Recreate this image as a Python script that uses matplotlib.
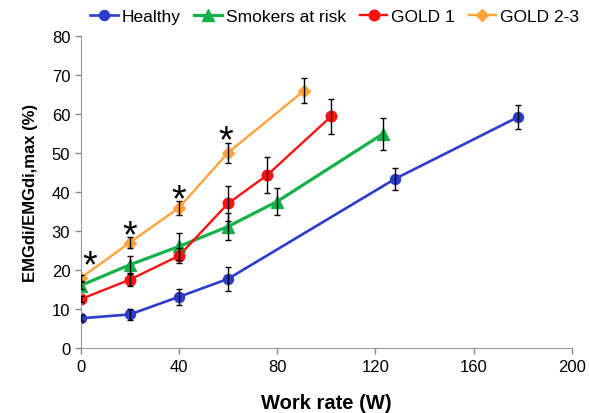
import matplotlib
matplotlib.use("Agg")
import matplotlib.pyplot as plt

plt.rcParams["font.family"] = ["Liberation Sans", "DejaVu Sans"]

# work rate (W) and EMGdi/EMGdi,max (%) per group, with SD
healthy_x = [0, 20, 40, 60, 128, 178]
healthy_y = [7.7, 8.7, 13.2, 17.8, 43.4, 59.2]
healthy_err = [0.8, 1.5, 2.1, 3.0, 2.9, 3.0]

smokers_x = [0, 20, 40, 60, 80, 123]
smokers_y = [16.1, 21.4, 26.1, 31.2, 37.6, 54.9]
smokers_err = [0.8, 2.3, 3.4, 3.4, 3.5, 4.1]

gold1_x = [0, 20, 40, 60, 76, 102]
gold1_y = [12.6, 17.6, 23.7, 37.1, 44.4, 59.4]
gold1_err = [0.8, 1.7, 1.9, 4.5, 4.6, 4.4]

gold23_x = [0, 20, 40, 60, 91]
gold23_y = [18.0, 27.1, 36.0, 50.1, 66.0]
gold23_err = [0.8, 1.4, 1.8, 2.6, 3.2]

# significance marks
star_x = [3.5, 20, 40, 59]
star_y = [21.0, 28.8, 38.0, 53.0]

fig = plt.figure(figsize=(5.89, 4.14), dpi=100)
ax = fig.add_axes([0.137, 0.156, 0.834, 0.755])

series = [
    (healthy_x, healthy_y, healthy_err, "#2B3CC8", "o", 7.2, 1.9, "Healthy"),
    (smokers_x, smokers_y, smokers_err, "#17B14A", "^", 8.0, 2.3, "Smokers at risk"),
    (gold1_x, gold1_y, gold1_err, "#FF1010", "o", 7.6, 1.7, "GOLD 1"),
    (gold23_x, gold23_y, gold23_err, "#FFA33A", "D", 5.8, 1.7, "GOLD 2-3"),
]

handles = []
for x, y, err, col, mk, ms, lw, name in series:
    ax.errorbar(x, y, yerr=err, fmt="none", ecolor="black", elinewidth=1.0,
                capsize=2.5, capthick=1.0, zorder=3)
    h, = ax.plot(x, y, color=col, marker=mk, markersize=ms, linewidth=lw,
                 label=name, zorder=2)
    handles.append(h)

for sx, sy in zip(star_x, star_y):
    ax.text(sx, sy, "*", fontsize=27, ha="center", va="center", color="black")

ax.set_xlim(0, 200)
ax.set_ylim(0, 80)
ax.set_xticks([0, 40, 80, 120, 160, 200])
ax.set_yticks(range(0, 81, 10))
ax.tick_params(labelsize=12, colors="#888888", labelcolor="black", length=4, width=1)
for s in ["top", "right"]:
    ax.spines[s].set_visible(False)
for s in ["left", "bottom"]:
    ax.spines[s].set_color("#999999")

ax.set_xlabel("Work rate (W)", fontsize=14.5, fontweight="bold", labelpad=14)
ax.set_ylabel("EMGdi/EMGdi,max (%)", fontsize=12, fontweight="bold", labelpad=10)

fig.legend(handles=handles, loc="center", bbox_to_anchor=(0.568, 0.957), ncol=4,
           frameon=False, fontsize=12.5, handlelength=1.6, handletextpad=0.2,
           columnspacing=0.8, borderaxespad=0)

fig.savefig("out.png", dpi=100)
